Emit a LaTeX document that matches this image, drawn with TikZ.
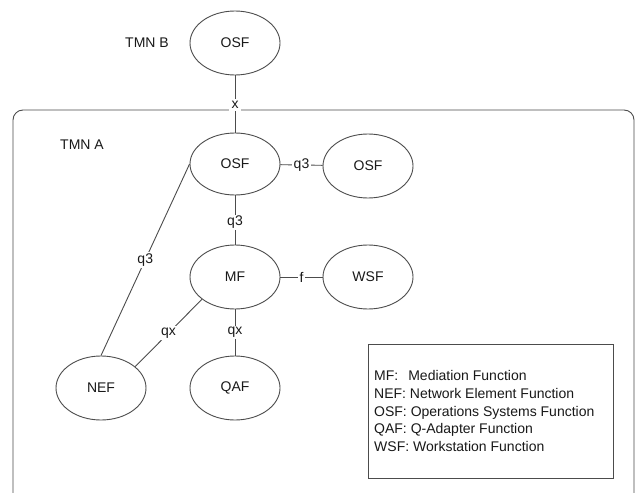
\documentclass[tikz,border=0pt]{standalone}
\usepackage{fontspec}
\setmainfont{Liberation Sans}
\usetikzlibrary{shapes.geometric}
\definecolor{ln}{gray}{0.3}
\definecolor{tx}{gray}{0.1}
\tikzset{
  fn/.style={draw=ln, line width=0.9pt, ellipse, minimum width=90pt, minimum height=64pt, inner sep=0pt, text=tx, font=\fontsize{14}{16}\selectfont},
  lbl/.style={text=tx, font=\fontsize{14}{16}\selectfont},
  elbl/.style={fill=white, inner sep=1.5pt, text=tx, font=\fontsize{14}{16}\selectfont},
  conn/.style={draw=ln, line width=0.9pt}
}
\begin{document}
\begin{tikzpicture}[x=1pt,y=-1pt]
\clip (0,0) rectangle (639,492);
\fill[white] (0,0) rectangle (639,492);
% outer TMN A box
\draw[ln, line width=0.9pt, rounded corners=10pt] (13,110) rectangle (634,520);
% nodes
\node[lbl] (tmnb) at (147,43) {TMN B};
\node[lbl] (tmna) at (82,145) {TMN A};
\node[fn] (osfb) at (235,43) {OSF};
\node[fn, minimum height=62pt] (osfa) at (235,164) {OSF};
\node[fn] (osfr) at (368,166) {OSF};
\node[fn] (mf) at (235,277) {MF};
\node[fn] (wsf) at (368,277) {WSF};
\node[fn] (nef) at (101,388) {NEF};
\node[fn] (qaf) at (235,388) {QAF};
% connectors
\draw[conn] (osfb) -- node[elbl, pos=0.52, inner sep=2.5pt] {x} (osfa);
\draw[conn] (osfa) -- node[elbl] {q3} (osfr);
\draw[conn] (osfa) -- node[elbl, pos=0.55] {q3} (mf);
\draw[conn] (mf) -- node[elbl] {f} (wsf);
\draw[conn] (mf) -- node[elbl] {qx} (qaf);
\draw[conn] (nef.32) -- node[elbl] {qx} (mf.214);
\draw[conn] (osfa.west) -- node[elbl] {q3} (nef.north);
% legend
\node[draw=ln, line width=0.9pt, minimum width=245pt, minimum height=134pt, inner sep=0pt] (legend) at (490.5,411) {};
\node[anchor=west, align=left, inner sep=0pt, text=tx, font=\fontsize{14}{17.7}\selectfont] (legtext) at (374,411)
{MF:\hspace{10pt}Mediation Function\\NEF: Network Element Function\\OSF: Operations Systems Function\\QAF: Q-Adapter Function\\WSF: Workstation Function};
\end{tikzpicture}
\end{document}
